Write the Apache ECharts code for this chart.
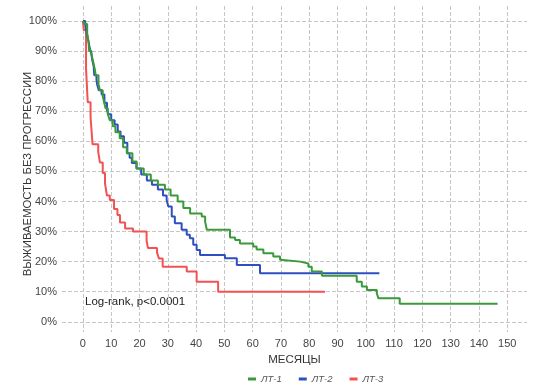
<!DOCTYPE html>
<html><head><meta charset="utf-8">
<script src="https://cdn.jsdelivr.net/npm/echarts@6/dist/echarts.min.js"></script>
<style>html,body{margin:0;padding:0;background:#fff}#c{width:538px;height:387px}</style>
</head><body><div id="c"></div>
<script>
const seriesNames = ['ЛТ-1', 'ЛТ-2', 'ЛТ-3'];
const xTicks = [0,10,20,30,40,50,60,70,80,90,100,110,120,130,140,150];
const yTicks = [0,10,20,30,40,50,60,70,80,90,100];
const lt1 = [[0,100],[0.5,99],[1.5,96],[2,93],[2.2,90],[3,89],[3.5,87],[4.2,84],[4.5,82],[5.5,79],[6,77],[7,75],[7.5,73],[8,71],[8.8,69],[9.5,67],[10.5,65],[11.5,63],[13,61],[14.2,58],[15.5,56],[17.5,53.3],[19,51],[21.5,49],[24,47],[26.5,45.6],[29,44],[31,42],[33.5,40],[35.5,37.8],[37.9,36],[42,35],[43.2,33.3],[43.8,30.6],[52,28],[53.8,27.2],[55.5,26],[60.2,25],[61.4,24],[63.8,22.8],[67.3,21.7],[69.7,20.6],[70.3,20],[76.8,19.4],[79.7,18.3],[80.9,16.7],[84.5,15.3],[96.8,13.3],[98.6,11.7],[100.4,10.6],[103.9,9.4],[104.5,7.8],[112,6],[146.6,6]];
const lt2 = [[0,100],[0.8,99],[1.3,96],[1.8,94],[2.5,90.6],[3,89],[3.3,87],[3.8,85],[4,82],[4.8,80.5],[5,79],[5.6,77],[6.6,75.6],[7.6,72.8],[8.5,70.6],[8.9,69],[10,67],[11.2,65.6],[12.3,63.3],[13.3,61.7],[14.5,59.5],[15.7,56],[16.5,54.5],[17.3,52.8],[18.9,51],[20.6,49],[22.6,47],[24.4,45.6],[26.5,44],[28.3,42],[29.6,40.5],[30.2,38.3],[31.4,35],[32.5,32.8],[34.9,30.6],[36.7,28.9],[37.8,27.8],[39,25.6],[40.2,23.9],[41.4,22.2],[50.2,21.1],[54.4,18.9],[62.6,16.1],[104.8,16.1]];
const lt3 = [[0,100],[0.3,97],[1.1,84],[1.7,73],[2.7,68],[3.4,59],[5.4,56.5],[6,53],[7,49.5],[7.8,46],[8.5,42],[9.5,40.5],[11,37.5],[12.2,35.5],[13.1,33],[14.9,31],[17.7,30],[22.5,27],[23,24.5],[26.2,23],[26.9,21],[28.2,18.3],[36.7,16.7],[40.2,13.3],[47.8,10],[85.6,10]];
const colors = ['#3a9a3a', '#2f4fc0', '#f25252'];
const annotation = 'Log-rank, p<0.0001';

const chart = echarts.init(document.getElementById('c'), null, {renderer: 'canvas'});
const font = 'Liberation Sans, Arial, sans-serif';
const gridLine = {show: true, lineStyle: {color: '#c6c6c6', type: [4, 2], width: 1}};
chart.setOption({
  animation: false,
  color: colors,
  grid: {left: 62, right: 11, top: 6, bottom: 55},
  legend: {
    left: 243, bottom: -2, itemWidth: 8, itemHeight: 3, itemGap: 17, icon: 'rect',
    data: seriesNames,
    textStyle: {fontFamily: font, fontSize: 9.5, color: '#555', fontStyle: 'italic'}
  },
  xAxis: {
    type: 'value', min: -7.4, max: 157,
    name: 'МЕСЯЦЫ', nameLocation: 'middle', nameGap: 19,
    nameTextStyle: {fontFamily: font, fontSize: 11.5, color: '#333'},
    axisLine: {show: false},
    axisTick: {show: false, customValues: xTicks},
    axisLabel: {customValues: xTicks, fontFamily: font, fontSize: 11, color: '#444', margin: 6},
    splitLine: gridLine
  },
  yAxis: {
    type: 'value', min: -3.4, max: 105,
    name: 'ВЫЖИВАЕМОСТЬ БЕЗ ПРОГРЕССИИ', nameLocation: 'middle', nameGap: 29, nameRotate: 90,
    nameMoveOverlap: false,
    nameTextStyle: {fontFamily: font, fontSize: 11.3, color: '#333', padding: [0, 10, 0, 0]},
    axisLine: {show: false},
    axisTick: {show: false, customValues: yTicks},
    axisLabel: {customValues: yTicks, formatter: v => v + '%', fontFamily: font, fontSize: 11, color: '#444', margin: 5},
    splitLine: gridLine
  },
  series: [lt1, lt2, lt3].map((d, i) => ({
    name: seriesNames[i], type: 'line', step: 'end', data: d,
    showSymbol: false, lineStyle: {width: 2}, z: 3 - i
  })),
  graphic: [{
    type: 'text', left: 85, top: 296,
    style: {text: annotation, font: '11.5px ' + font, fill: '#222'}
  }]
});
</script></body></html>
